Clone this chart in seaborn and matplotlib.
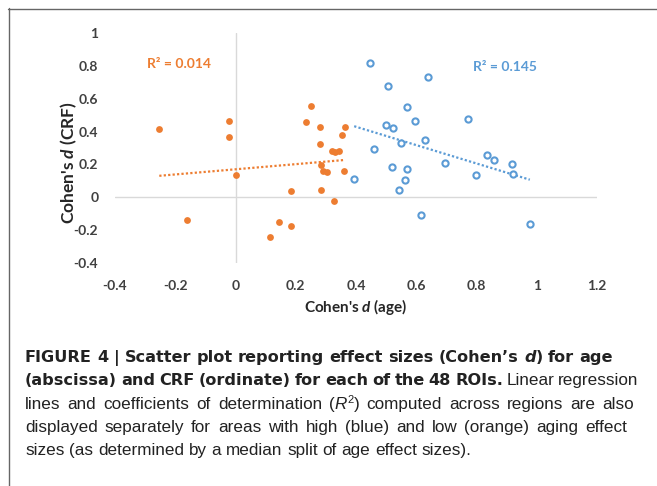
import re
import numpy as np
import pandas as pd
import matplotlib
matplotlib.use("Agg")
import matplotlib.pyplot as plt
import matplotlib.transforms as mtransforms
from matplotlib.lines import Line2D
import seaborn as sns

# effect sizes (Cohen's d)
low_age = [-0.253, -0.161, -0.020, -0.020, 0.000, 0.114, 0.144, 0.183, 0.183,
           0.233, 0.250, 0.280, 0.281, 0.283, 0.292, 0.303, 0.283, 0.319,
           0.331, 0.342, 0.326, 0.363, 0.352, 0.361]
low_crf = [0.413, -0.140, 0.463, 0.368, 0.138, -0.242, -0.148, -0.173, 0.041,
           0.459, 0.557, 0.429, 0.323, 0.199, 0.159, 0.154, 0.043, 0.282,
           0.278, 0.284, -0.022, 0.429, 0.382, 0.159]
high_age = [0.446, 0.639, 0.506, 0.568, 0.596, 0.771, 0.498, 0.523, 0.548,
            0.629, 0.460, 0.694, 0.836, 0.857, 0.917, 0.920, 0.797, 0.518,
            0.570, 0.563, 0.394, 0.543, 0.616, 0.977]
high_crf = [0.819, 0.734, 0.679, 0.547, 0.465, 0.476, 0.437, 0.421, 0.333,
            0.348, 0.291, 0.209, 0.260, 0.228, 0.201, 0.142, 0.134, 0.187,
            0.173, 0.106, 0.110, 0.045, -0.108, -0.165]

x_ticks = [-0.4, -0.2, 0, 0.2, 0.4, 0.6, 0.8, 1, 1.2]
x_tick_labels = ["-0.4", "-0.2", "0", "0.2", "0.4", "0.6", "0.8", "1", "1.2"]
y_ticks = [-0.4, -0.2, 0, 0.2, 0.4, 0.6, 0.8, 1]
y_tick_labels = ["-0.4", "-0.2", "0", "0.2", "0.4", "0.6", "0.8", "1"]

r2_low_label = "R² = 0.014"
r2_high_label = "R² = 0.145"

ORANGE = "#ED7D31"
BLUE = "#5B9BD5"
TICK_COL = "#404040"

sns.set_theme(style="white")
plt.rcParams['font.family'] = ['Lato', 'DejaVu Sans']
plt.rcParams['mathtext.fontset'] = 'custom'
plt.rcParams['mathtext.it'] = 'Lato:italic:bold'
plt.rcParams['mathtext.rm'] = 'Lato:bold'

df_low = pd.DataFrame({"age": low_age, "crf": low_crf})
df_high = pd.DataFrame({"age": high_age, "crf": high_crf})

fig = plt.figure(figsize=(6.57, 4.86), dpi=100)
fig.patch.set_facecolor("white")
ax = fig.add_axes([115 / 657, 1 - 263 / 486, 482 / 657, 230 / 486])

ax.axhline(0, color="#d9d9d9", lw=1, zorder=0)
ax.axvline(0, color="#d9d9d9", lw=1, zorder=0)

sns.regplot(data=df_low, x="age", y="crf", ax=ax, ci=None, scatter=False,
            color=ORANGE, line_kws=dict(ls=(0, (1, 1)), lw=1.6))
sns.regplot(data=df_high, x="age", y="crf", ax=ax, ci=None, scatter=False,
            color=BLUE, line_kws=dict(ls=(0, (1, 1)), lw=1.6))
sns.scatterplot(data=df_low, x="age", y="crf", ax=ax, color=ORANGE, s=24,
                linewidth=0, zorder=3)
sns.scatterplot(data=df_high, x="age", y="crf", ax=ax, s=20, marker="o",
                facecolor="white", edgecolor=BLUE, linewidth=1.5, zorder=3)

ax.set_xlim(-0.4, 1.2)
ax.set_ylim(-0.4, 1)
ax.set_xticks(x_ticks)
ax.set_xticklabels(x_tick_labels)
ax.set_yticks(y_ticks)
ax.set_yticklabels(y_tick_labels)
ax.tick_params(axis="both", length=0, pad=12, labelsize=10, labelcolor=TICK_COL)
for lab in ax.get_xticklabels() + ax.get_yticklabels():
    lab.set_fontweight("bold")
for sp in ax.spines.values():
    sp.set_visible(False)

ax.set_xlabel(r"Cohen's $d$ (age)", fontsize=11, fontweight="bold",
              color="#262626", va="center")
ax.set_ylabel(r"Cohen's $d$ (CRF)", fontsize=12.5, fontweight="bold",
              color="#262626", va="center")
ax.xaxis.set_label_coords(0.5, -0.191)
ax.yaxis.set_label_coords(-0.095, 0.435)

ax.text(-0.293, 0.811, r2_low_label, color=ORANGE, fontsize=10,
        fontweight="bold", ha="left", va="center")
ax.text(0.79, 0.793, r2_high_label, color=BLUE, fontsize=10,
        fontweight="bold", ha="left", va="center")

# frame round the figure panel (only top and left edges visible)
ident = mtransforms.IdentityTransform()
fig.add_artist(Line2D([8, 657], [486 - 8.5, 486 - 8.5], color="#666666", lw=1.0, transform=ident))
fig.add_artist(Line2D([8.5, 8.5], [0, 486 - 8], color="#666666", lw=1.0, transform=ident))

# caption, drawn as runs of mixed weight/style
renderer = fig.canvas.get_renderer()
REG_FONT = ['Liberation Sans', 'DejaVu Sans']
BOLD_FONT = ['DejaVu Sans']
REG_SIZE = 12.3
BOLD_SIZE = 11.6
CAP_COL = "#222222"


def font_kw(weight, style, sup):
    if weight == "bold":
        fam, size = BOLD_FONT, BOLD_SIZE
    else:
        fam, size = REG_FONT, REG_SIZE
    if sup:
        size *= 0.65
    return dict(family=fam, fontsize=size, fontweight=weight, fontstyle=style)


def run_width(s, kw):
    t = fig.text(0, 0, "|" + s + "|", transform=ident, **kw)
    w1 = t.get_window_extent(renderer).width
    t.remove()
    t = fig.text(0, 0, "||", transform=ident, **kw)
    w2 = t.get_window_extent(renderer).width
    t.remove()
    return w1 - w2


B, N = "bold", "normal"
caption = [
    (362, 613, [("FIGURE 4 | Scatter plot reporting effect sizes (Cohen\u2019s ", B, N, False),
                ("d", B, "oblique", False), (") for age", B, N, False)]),
    (385, 636, [("(abscissa) and CRF (ordinate) for each of the 48 ROIs.", B, N, False),
                (" Linear regression", N, N, False)]),
    (409, 634, [("lines and coefficients of determination (", N, N, False),
                ("R", N, "italic", False), ("2", N, N, True),
                (") computed across regions are also", N, N, False)]),
    (432, 627, [("displayed separately for areas with high (blue) and low (orange) aging effect", N, N, False)]),
    (455, None, [("sizes (as determined by a median split of age effect sizes).", N, N, False)]),
]


def draw_line(y_top, x_end, runs):
    tokens = []
    for s, weight, style, sup in runs:
        kw = font_kw(weight, style, sup)
        for tok in re.split(r"( )", s):
            if tok:
                tokens.append((tok, kw, sup))
    widths = [run_width(t[0], t[1]) for t in tokens]
    n_sp = sum(1 for t in tokens if t[0] == " ")
    extra = 0.0
    if x_end is not None and n_sp:
        extra = max((x_end - 25 - sum(widths)) / n_sp, -1.5)
    x = 25
    base = 486 - y_top
    for (tok, kw, sup), w in zip(tokens, widths):
        if tok == " ":
            x += w + extra
            continue
        fig.text(x, base + (6 if sup else 0), tok, transform=ident, ha="left",
                 va="baseline", color=CAP_COL, **kw)
        x += w


for y_top, x_end, runs in caption:
    draw_line(y_top, x_end, runs)

fig.savefig("out.png", dpi=100)
